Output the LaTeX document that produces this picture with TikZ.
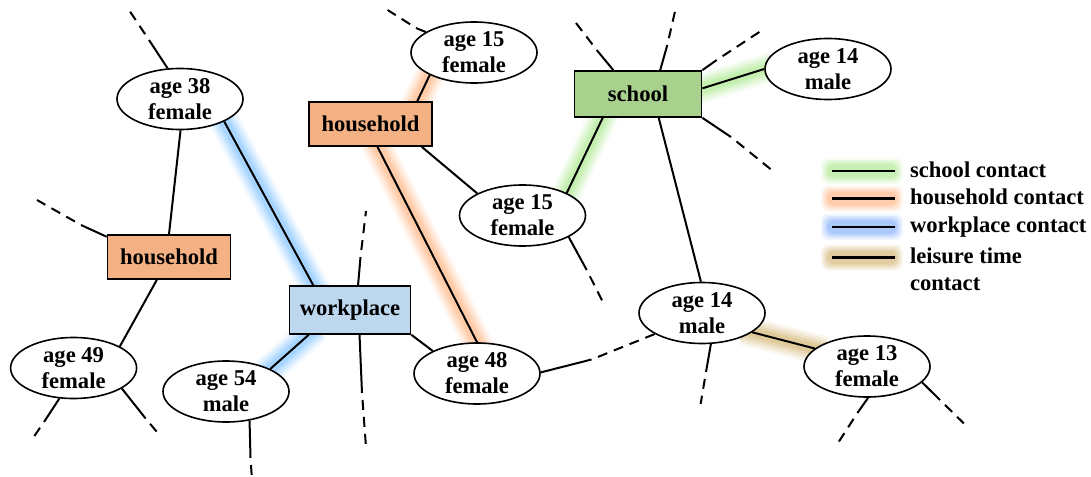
\documentclass[tikz,border=0pt]{standalone}
\usepackage{fontspec}
\setmainfont{Liberation Serif}
\usetikzlibrary{shapes.geometric,backgrounds,calc}
\definecolor{hhfill}{HTML}{F4B183}
\definecolor{wkfill}{HTML}{BDD7EE}
\definecolor{scfill}{HTML}{A9D18E}
\definecolor{ggreen}{RGB}{186,236,161}
\definecolor{gorange}{RGB}{255,192,149}
\definecolor{gblue}{RGB}{149,204,255}
\definecolor{gblueleg}{RGB}{149,186,249}
\definecolor{gtan}{RGB}{217,192,136}
\newcommand\glowline[3]{%
  \foreach \w/\o in {30/0.12,25/0.18,20/0.25,15/0.35,10/0.5}{%
    \draw[#1,line width=\w pt,opacity=\o,shorten <=-10pt,shorten >=-10pt] #2 -- #3;}}
\newcommand\glowrect[2]{%
  \foreach \d/\o in {6/0.15,4/0.25,2/0.35,0/0.5}{%
    \fill[#1,opacity=\o,rounded corners=7pt] (827-\d,#2-7-\d) rectangle (897+\d,#2+7+\d);}}
\tikzset{
  ell/.style={ellipse, draw, fill=white, minimum width=126pt, minimum height=61pt, inner sep=0pt, line width=1.6pt},
  etxt/.style={align=center, inner sep=0pt, font=\bfseries\fontsize{22.6}{26}\selectfont},
  boxn/.style={rectangle, draw, line width=1.6pt, inner sep=0pt, minimum height=44pt},
  conn/.style={line width=2pt},
  dangle/.style={line width=2pt, dash pattern=on 10pt off 7pt, dash phase=10pt},
  legtxt/.style={anchor=base west, inner sep=0pt, align=left}
}
\begin{document}
\begin{tikzpicture}[x=1pt,y=-1pt,line width=2pt,
  font=\bfseries\fontsize{22.6}{25}\selectfont]
\useasboundingbox (0,0) rectangle (1091,476);
% ellipses
\node[ell] (A38) at (180,99) {};
\node[etxt] (t38) at (A38) {age 38\\female};
\node[ell] (A15a) at (474,52.5) {};
\node[etxt] (t15a) at (A15a) {age 15\\female};
\node[ell] (A49) at (73.6,368) {};
\node[etxt] (t49) at (A49) {age 49\\female};
\node[ell] (A54) at (226,391.5) {};
\node[etxt] (t54) at (A54) {age 54\\male};
\node[ell] (A48) at (477,373.5) {};
\node[etxt] (t48) at (A48) {age 48\\female};
\node[ell] (A15b) at (522.5,215.5) {};
\node[etxt] (t15b) at (A15b) {age 15\\female};
\node[ell] (A14a) at (828,69) {};
\node[etxt] (t14a) at (A14a) {age 14\\male};
\node[ell] (A14b) at (702,313) {};
\node[etxt] (t14b) at (A14b) {age 14\\male};
\node[ell] (A13) at (867,366.5) {};
\node[etxt] (t13) at (A13) {age 13\\female};
% boxes
\node[boxn, fill=hhfill, minimum width=123pt] (hh1) at (370.5,124) {household};
\node[boxn, fill=hhfill, minimum width=123pt] (hh2) at (169,257) {household};
\node[boxn, fill=wkfill, minimum width=121pt, minimum height=48pt] (work) at (350,310) {workplace};
\node[boxn, fill=scfill, minimum width=127pt, minimum height=46pt] (school) at (638,94) {school};
% glows
\begin{scope}[on background layer]
\glowline{gblue}{(A38.-27)}{(work.146.3)}
\glowline{gorange}{(A15a.207.6)}{(hh1.26)}
\glowline{gorange}{(hh1.-73.5)}{(A48.90)}
\glowline{gblue}{(work.-149.8)}{(A54.27)}
\glowline{ggreen}{(school.-146.7)}{(A15b.27.3)}
\glowline{ggreen}{(school.5.4)}{(A14a.180)}
\glowline{gtan}{(A14b.-21)}{(A13.161.6)}
\end{scope}
% connectors
\draw[conn] (A38.-89) -- (hh2.90);
\draw[conn] (A38.-27) -- (work.146.3);
\draw[conn] (A15a.207.6) -- (hh1.26);
\draw[conn] (hh1.-73.5) -- (A48.90);
\draw[conn] (hh1.-24) -- (A15b.154.1);
\draw[conn] (hh2.-118.6) -- (A49.25);
\draw[conn] (work.-149.8) -- (A54.27);
\draw[conn] (work.-22.9) -- (A48.153.6);
\draw[conn] (school.-146.7) -- (A15b.27.3);
\draw[conn] (school.5.4) -- (A14a.180);
\draw[conn] (school.-49.7) -- (A14b.92);
\draw[conn] (A14b.-21) -- (A13.161.6);
\coordinate (m13) at (591.5,359.5);
\draw[conn] (A48.1) -- (m13);
\draw[dangle] (m13) -- (A14b.204);
% dangling contacts
\coordinate (d1m) at (149,40);     \coordinate (d1e) at (129,10);
\coordinate (d2m) at (416,28);     \coordinate (d2e) at (387.6,10);
\coordinate (d3m) at (81,225);     \coordinate (d3e) at (37,200);
\coordinate (d4m) at (44,422);     \coordinate (d4e) at (33,438);
\coordinate (d5m) at (145.6,418.5);\coordinate (d5e) at (157,432);
\coordinate (d6m) at (250.5,458);  \coordinate (d6e) at (252,480);
\coordinate (d7m) at (360.5,257);  \coordinate (d7e) at (366,211);
\coordinate (d8m) at (362,393);    \coordinate (d8e) at (366,447);
\coordinate (d9m) at (586.7,270);  \coordinate (d9e) at (602.7,301.7);
\coordinate (d10m) at (596.7,50);  \coordinate (d10e) at (575,21.7);
\coordinate (d11m) at (667.3,45);  \coordinate (d11e) at (676,7);
\coordinate (d12m) at (716.7,60);  \coordinate (d12e) at (765,28.3);
\coordinate (d13m) at (731,137);   \coordinate (d13e) at (775.7,173.3);
\coordinate (d14m) at (706,372);   \coordinate (d14e) at (700.6,404);
\coordinate (d15m) at (857.4,413); \coordinate (d15e) at (838.8,441.7);
\coordinate (d16m) at (940,400);   \coordinate (d16e) at (963.7,423.3);
\draw[conn] (A38.112.5) -- (d1m);  \draw[dangle] (d1m) -- (d1e);
\draw[conn] (A15a.157.7) -- (d2m); \draw[dangle] (d2m) -- (d2e);
\draw[conn] (hh2.162) -- (d3m);    \draw[dangle] (d3m) -- (d3e);
\draw[conn] (A49.-115) -- (d4m);   \draw[dangle] (d4m) -- (d4e);
\draw[conn] (A49.-23.8) -- (d5m);  \draw[dangle] (d5m) -- (d5e);
\draw[conn] (A54.-51) -- (d6m);    \draw[dangle] (d6m) -- (d6e);
\draw[conn] (work.72.2) -- (d7m);  \draw[dangle] (d7m) -- (d7e);
\draw[conn] (work.-69.4) -- (d8m); \draw[dangle] (d8m) -- (d8e);
\draw[conn] (A15b.-25.5) -- (d9m); \draw[dangle] (d9m) -- (d9e);
\draw[conn] (school.136.6) -- (d10m); \draw[dangle] (d10m) -- (d10e);
\draw[conn] (school.47.6) -- (d11m);  \draw[dangle] (d11m) -- (d11e);
\draw[conn] (school.north east) -- (d12m); \draw[dangle] (d12m) -- (d12e);
\draw[conn] (school.south east) -- (d13m); \draw[dangle] (d13m) -- (d13e);
\draw[conn] (A14b.-74) -- (d14m);  \draw[dangle] (d14m) -- (d14e);
\draw[conn] (A13.-88) -- (d15m);   \draw[dangle] (d15m) -- (d15e);
\draw[conn] (A13.-16.8) -- (d16m); \draw[dangle] (d16m) -- (d16e);
% legend
\glowrect{ggreen}{171}
\glowrect{gorange}{198.5}
\glowrect{gblueleg}{227}
\glowrect{gtan}{257.5}
\foreach \y in {171,198.5,227,257.5}{\draw[line width=2.2pt] (832,\y) -- (895,\y);}
\node[legtxt] (L1) at (909,177) {school contact};
\node[legtxt] (L2) at (909,204) {household contact};
\node[legtxt] (L3) at (909,232) {workplace contact};
\node[legtxt, font=\bfseries\fontsize{22.6}{27.5}\selectfont] (L4) at (909,290.5) {leisure time\\contact};
\end{tikzpicture}
\end{document}
